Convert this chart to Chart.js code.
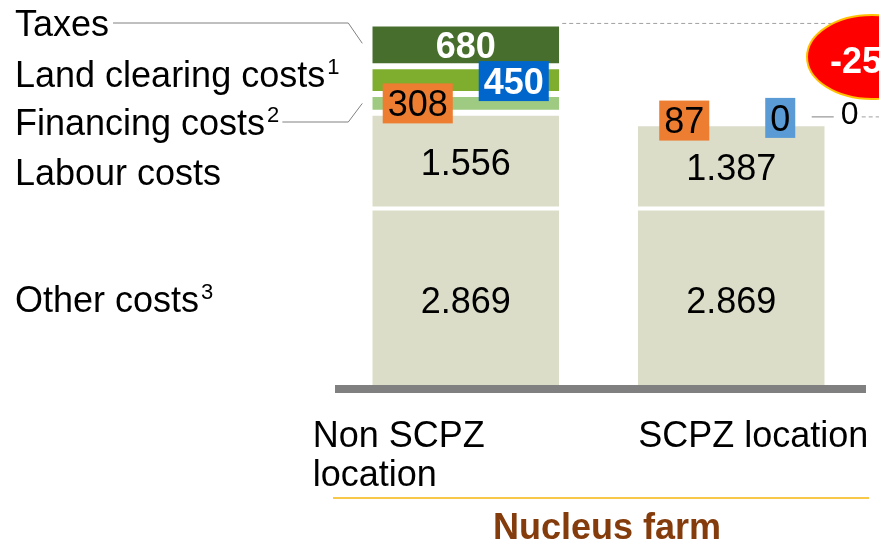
<!DOCTYPE html>
<html>
<head>
<meta charset="utf-8">
<script src="https://cdn.jsdelivr.net/npm/chart.js@4.4.1/dist/chart.umd.min.js"></script>
<style>
  html, body { margin: 0; padding: 0; background: #fff; }
  canvas { display: block; }
</style>
</head>
<body>
<canvas id="chart" width="879" height="545"></canvas>
<script>
const categories = ['Non SCPZ location', 'SCPZ location'];
const otherCosts = [2869, 2869];
const labourCosts = [1556, 1387];
const financingCosts = [308, 87];
const landClearingCosts = [450, 0];
const taxes = [680, 0];

const seriesNames = ['Other costs', 'Labour costs', 'Financing costs', 'Land clearing costs', 'Taxes'];
const footnotes = ['3', '', '2', '1', ''];
const groupTitle = 'Nucleus farm';
const changeLabel = '-25%';

const FONT = '"Liberation Sans", Arial, sans-serif';

function font(size, bold = false) {
  return `${bold ? 'bold ' : ''}${size}px ${FONT}`;
}

function formatValue(value) {
  return String(value).replace(/\B(?=(\d{3})+(?!\d))/g, '.');
}

function segment(chart, datasetIndex, index) {
  const bar = chart.getDatasetMeta(datasetIndex).data[index];
  return {
    x: bar.x,
    top: bar.y,
    bottom: bar.base,
    mid: (bar.y + bar.base) / 2,
    left: bar.x - bar.width / 2,
    right: bar.x + bar.width / 2,
  };
}

function drawCentered(ctx, text, x, cy, size, color, bold = false) {
  ctx.font = font(size, bold);
  ctx.fillStyle = color;
  ctx.textAlign = 'center';
  ctx.textBaseline = 'alphabetic';
  ctx.fillText(text, x, cy + size * 0.358);
}

function drawBoxLabel(ctx, text, cx, cy, fill, color, bold = false) {
  ctx.font = font(36, bold);
  const w = ctx.measureText(text).width + 10;
  const h = 40;
  ctx.fillStyle = fill;
  ctx.fillRect(cx - w / 2, cy - h / 2, w, h);
  drawCentered(ctx, text, cx, cy, 36, color, bold);
}

function drawLine(ctx, points, color, dash = []) {
  ctx.save();
  ctx.strokeStyle = color;
  ctx.lineWidth = 1;
  ctx.setLineDash(dash);
  ctx.beginPath();
  points.forEach(([x, y], i) => (i === 0 ? ctx.moveTo(x, y) : ctx.lineTo(x, y)));
  ctx.stroke();
  ctx.restore();
}

const annotations = {
  id: 'annotations',
  afterDatasetsDraw(chart) {
    const { ctx, chartArea, scales } = chart;
    ctx.save();

    // axis base line
    const zeroY = scales.y.getPixelForValue(0);
    ctx.fillStyle = '#808080';
    ctx.fillRect(chartArea.left + 2, zeroY, chartArea.right - chartArea.left, 8);

    // values inside the stacks
    categories.forEach((_, i) => {
      const other = segment(chart, 0, i);
      const labour = segment(chart, 1, i);
      drawCentered(ctx, formatValue(otherCosts[i]), other.x, other.mid + 3, 36, '#000');
      drawCentered(ctx, formatValue(labourCosts[i]), labour.x, labour.mid + 1, 36, '#000');
    });

    const tax1 = segment(chart, 4, 0);
    const land1 = segment(chart, 3, 0);
    const fin1 = segment(chart, 2, 0);
    drawCentered(ctx, formatValue(taxes[0]), tax1.x, tax1.mid, 36, '#fff', true);
    drawBoxLabel(ctx, formatValue(landClearingCosts[0]), land1.x + 48, land1.mid + 1, '#0066CC', '#fff', true);
    drawBoxLabel(ctx, formatValue(financingCosts[0]), fin1.x - 48, fin1.mid, '#ED7D31', '#000');

    const fin2 = segment(chart, 2, 1);
    const land2 = segment(chart, 3, 1);
    const tax2 = segment(chart, 4, 1);
    drawBoxLabel(ctx, formatValue(financingCosts[1]), fin2.x - 47, fin2.mid, '#ED7D31', '#000');
    drawBoxLabel(ctx, formatValue(landClearingCosts[1]), land2.x + 49, land2.top, '#5B9BD5', '#000');
    drawLine(ctx, [[tax2.right - 13, tax2.top - 1], [tax2.right + 9, tax2.top - 1]], '#808080');
    drawCentered(ctx, formatValue(taxes[1]), tax2.right + 25, tax2.top - 5, 32, '#000');
    drawLine(ctx, [[tax2.right + 37, tax2.top - 1], [chart.width, tax2.top - 1]], '#a0a0a0', [4, 3]);

    // series names on the left
    const nameBaselines = [312, 185, 135, 87, 36];
    ctx.textAlign = 'left';
    ctx.textBaseline = 'alphabetic';
    ctx.fillStyle = '#000';
    const nameEnds = seriesNames.map((name, k) => {
      ctx.font = font(36);
      ctx.fillText(name, 15, nameBaselines[k]);
      let end = 15 + ctx.measureText(name).width;
      if (footnotes[k]) {
        ctx.font = font(22);
        ctx.fillText(footnotes[k], end + 2, nameBaselines[k] - 13);
        end += 2 + ctx.measureText(footnotes[k]).width;
      }
      return end;
    });
    drawLine(ctx, [[nameEnds[4] + 4, 23], [tax1.left - 24, 23], [tax1.left - 10, tax1.mid - 2]], '#808080');
    drawLine(ctx, [[nameEnds[2] + 3, 122], [fin1.left - 24, 122], [fin1.left - 10, fin1.mid]], '#808080');

    // total line and change bubble
    drawLine(ctx, [[tax1.right + 3, tax1.top - 1], [chart.width, tax1.top - 1]], '#a0a0a0', [4, 3]);
    ctx.beginPath();
    ctx.ellipse(872, 57, 65, 42, 0, 0, Math.PI * 2);
    ctx.fillStyle = '#FF0000';
    ctx.fill();
    ctx.lineWidth = 2;
    ctx.strokeStyle = '#FFC000';
    ctx.stroke();
    drawCentered(ctx, changeLabel, 872, 60, 36, '#fff', true);

    // category labels
    ctx.font = font(36);
    ctx.fillStyle = '#000';
    ctx.textAlign = 'left';
    const words = categories[0].split(' ');
    ctx.fillText(words.slice(0, 2).join(' '), other0x(chart) - 153, 447);
    ctx.fillText(words.slice(2).join(' '), other0x(chart) - 153, 486);
    ctx.fillText(categories[1], segment(chart, 0, 1).x - 93, 447);

    ctx.fillStyle = '#F8C848';
    ctx.fillRect(333, 497, 536, 2);
    ctx.font = font(36, true);
    ctx.fillStyle = '#843C0C';
    ctx.textAlign = 'center';
    ctx.fillText(groupTitle, 607, 539);

    ctx.restore();
  },
};

function other0x(chart) {
  return segment(chart, 0, 0).x;
}

function dataset(label, data, color, borderWidth) {
  return {
    label,
    data,
    backgroundColor: color,
    borderColor: '#ffffff',
    borderWidth,
    borderSkipped: false,
    barPercentage: 0.704,
    categoryPercentage: 1,
  };
}

new Chart(document.getElementById('chart'), {
  type: 'bar',
  data: {
    labels: categories,
    datasets: [
      dataset(seriesNames[0], otherCosts, '#DBDDC9', { top: 2, bottom: 0, left: 0, right: 0 }),
      dataset(seriesNames[1], labourCosts, '#DBDDC9', { top: 3, bottom: 2, left: 0, right: 0 }),
      dataset(seriesNames[2], financingCosts, '#9ECB81', { top: 3, bottom: 3, left: 0, right: 0 }),
      dataset(seriesNames[3], landClearingCosts, '#7FAE2E', { top: 3, bottom: 3, left: 0, right: 0 }),
      dataset(seriesNames[4], taxes, '#486E2D', { top: 2, bottom: 3, left: 0, right: 0 }),
    ],
  },
  options: {
    responsive: false,
    animation: false,
    layout: { padding: { left: 333, right: 15, top: 16, bottom: 160 } },
    plugins: {
      legend: { display: false },
      tooltip: { enabled: false },
    },
    scales: {
      x: { stacked: true, display: false },
      y: { stacked: true, display: false, min: 0, max: 6000 },
    },
  },
  plugins: [annotations],
});
</script>
</body>
</html>
